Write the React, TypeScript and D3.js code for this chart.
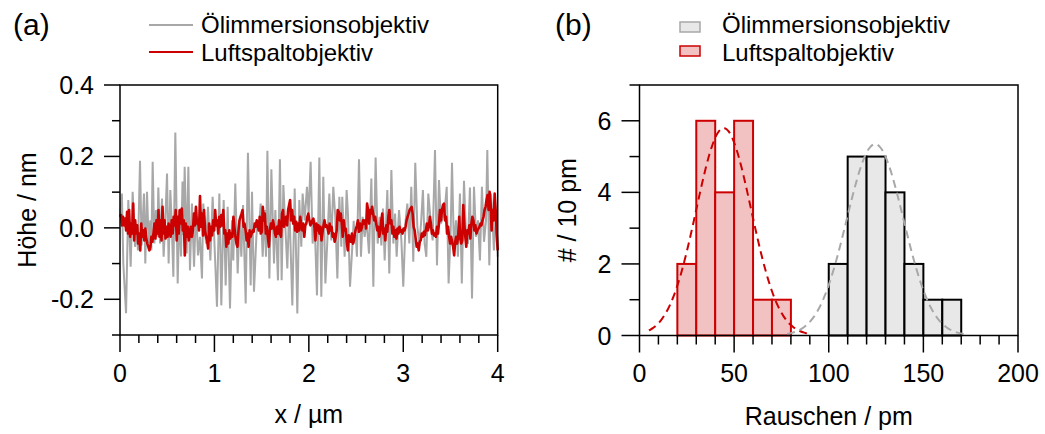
import React from "react";
import * as d3 from "d3";

// ---------- Data ----------
// Panel (a): height profiles. Gray: [x in µm, height in nm] vertices.
const grayProfile: [number, number][] = [
  [0.000,0.031],[0.020,0.096],[0.035,-0.100],[0.064,-0.239],[0.088,0.078],[0.113,-0.109],[0.134,0.101],[0.159,-0.053],[0.180,-0.007],[0.190,-0.063],
  [0.212,0.188],[0.229,-0.049],[0.254,0.096],[0.268,-0.100],[0.286,0.101],[0.304,-0.044],[0.321,0.021],[0.332,-0.063],[0.346,0.185],[0.364,-0.044],
  [0.381,0.050],[0.395,-0.025],[0.406,0.113],[0.424,-0.044],[0.445,0.082],[0.462,-0.081],[0.480,0.021],[0.498,0.152],[0.515,-0.100],[0.533,0.106],
  [0.547,0.020],[0.565,-0.137],[0.586,0.267],[0.611,-0.156],[0.628,0.050],[0.646,-0.080],[0.662,0.130],[0.672,-0.020],[0.685,0.171],[0.706,-0.072],
  [0.724,0.171],[0.741,-0.119],[0.762,0.068],[0.784,-0.109],[0.805,0.059],[0.826,-0.077],[0.847,-0.025],[0.868,-0.142],[0.882,0.068],[0.911,-0.044],
  [0.932,0.059],[0.957,-0.091],[0.981,0.087],
  [1.027,-0.221],[1.052,0.096],[1.073,-0.217],[1.098,0.078],[1.119,-0.161],[1.140,0.059],[1.165,-0.226],[1.186,0.021],[1.200,-0.091],[1.221,0.124],
  [1.246,-0.128],[1.267,0.021],[1.285,-0.081],[1.303,0.064],[1.331,-0.212],[1.355,0.210],[1.384,-0.161],[1.398,0.101],[1.419,-0.179],[1.444,-0.025],
  [1.458,0.020],[1.469,-0.010],[1.490,0.068],[1.511,-0.081],[1.532,0.050],[1.546,-0.081],[1.561,0.216],[1.582,-0.142],[1.603,0.164],[1.631,-0.100],
  [1.645,0.050],[1.673,-0.147],[1.694,0.192],[1.712,-0.147],[1.730,0.120],[1.751,0.003],[1.772,-0.114],[1.793,0.068],[1.825,-0.217],[1.850,0.110],
  [1.878,-0.240],[1.899,0.078],[1.920,-0.053],[1.934,0.096],[1.956,0.021],[1.980,0.115],[1.998,0.040],[2.019,0.185],
  [2.040,-0.044],[2.061,0.021],[2.086,-0.189],[2.111,0.197],[2.132,-0.193],[2.153,0.143],[2.175,-0.156],[2.196,-0.035],[2.217,0.096],[2.238,-0.035],
  [2.259,0.115],[2.280,0.031],[2.302,-0.142],[2.323,0.087],[2.344,-0.053],[2.354,0.087],[2.379,-0.081],[2.400,0.106],[2.414,0.040],[2.436,-0.165],
  [2.464,-0.035],[2.475,0.020],[2.485,-0.044],[2.497,-0.020],[2.509,-0.081],[2.531,0.192],[2.552,-0.081],[2.570,0.031],[2.591,-0.025],[2.612,0.021],
  [2.637,-0.072],[2.662,0.138],[2.683,-0.165],[2.707,0.197],[2.729,-0.044],[2.750,0.031],[2.768,-0.049],[2.785,0.054],[2.803,-0.091],[2.831,0.106],
  [2.852,-0.128],[2.874,0.162],[2.895,-0.044],[2.913,0.040],[2.930,-0.081],[2.955,0.050],[2.980,-0.035],[3.000,-0.165],[3.025,0.021],
  [3.043,0.068],[3.064,-0.044],[3.085,0.115],[3.106,-0.095],[3.127,0.182],[3.149,0.003],[3.170,-0.044],[3.188,0.012],[3.208,0.106],[3.226,-0.044],
  [3.244,-0.081],[3.265,0.096],[3.286,0.031],[3.311,-0.035],[3.336,0.218],[3.357,-0.105],[3.378,0.134],[3.400,0.012],[3.439,0.050],[3.460,0.115],
  [3.480,-0.156],[3.502,-0.007],[3.516,0.182],[3.537,-0.063],[3.558,0.021],[3.579,-0.081],[3.600,0.096],[3.620,-0.156],[3.643,0.132],[3.664,-0.016],
  [3.685,-0.045],[3.706,0.113],[3.728,-0.198],[3.749,0.115],[3.770,-0.025],[3.791,0.021],[3.812,-0.091],[3.833,0.115],[3.855,-0.039],[3.876,0.021],
  [3.890,0.218],[3.911,-0.105],[3.929,0.096],[3.946,0.021],[3.960,-0.063],[3.982,0.050],[4.000,-0.081],
];

// Red: heights in nm, sampled evenly from x = 0 to 4 µm.
const redProfile: number[] = [
  0.031,0.036,0.007,0.031,0.007,0.026,-0.007,0.045,-0.016,0.05,
  -0.025,0.012,-0.016,0.068,-0.035,0.021,-0.016,0.007,-0.044,-0.016,
  -0.063,0.012,-0.025,-0.007,-0.035,-0.002,-0.03,-0.044,-0.053,-0.063,
  -0.053,-0.025,-0.039,-0.016,0.012,-0.03,0.021,-0.016,0.05,-0.025,
  0.021,-0.035,0.059,-0.016,0.021,-0.03,0.003,-0.025,0.012,-0.007,
  -0.025,0.021,-0.016,0.031,0.007,0.05,-0.035,0.031,-0.016,0.05,
  0.012,0.054,-0.007,0.021,-0.077,0.012,-0.025,0.003,-0.035,-0.016,
  0.003,-0.025,-0.007,0.04,0.007,0.059,0.012,0.021,-0.007,0.089,
  0.003,0.04,-0.021,0.05,-0.007,-0.025,-0.035,-0.058,0.012,-0.035,
  0.003,
  -0.021,0.021,-0.007,0.05,0.007,0.021,-0.016,0.031,0.003,0.036,
  0.007,0.05,-0.016,-0.007,-0.053,-0.016,-0.044,-0.007,-0.03,-0.016,
  -0.025,0.031,0.003,-0.025,-0.044,-0.053,-0.007,0.021,0.031,0.04,
  0.05,0.003,0.012,-0.007,-0.035,-0.016,-0.053,-0.007,-0.025,-0.016,
  -0.007,-0.011,0.012,0.003,0.021,0.007,-0.007,0.031,-0.016,-0.011,
  0.059,0.021,0.04,-0.016,0.003,-0.025,-0.053,-0.007,0.012,-0.002,
  0.021,0.007,-0.016,-0.025,0.003,-0.016,0.021,-0.016,-0.025,0.04,
  0.05,0.003,0.021,0.031,0.007,0.05,0.064,0.078,0.021,0.05,
  0.012,0.031,-0.007,0.017,-0.011,0.012,-0.007,0.031,0.007,-0.007,
  0.012,-0.025,0.007,0.012,0.031,0.04,
  0.021,0.007,0.012,0.021,0.026,0.003,-0.035,0.012,-0.007,0.007,
  -0.016,0.003,-0.035,-0.011,0.007,0.021,0.003,0.007,-0.002,-0.016,
  0.012,-0.007,0.003,-0.025,-0.016,-0.039,-0.025,-0.007,0.05,0.045,
  0.021,0.04,0.012,-0.025,0.021,-0.007,-0.002,-0.039,-0.063,-0.021,
  -0.03,-0.039,-0.016,-0.044,-0.035,-0.016,-0.002,0.007,0.021,-0.011,
  0.012,-0.007,0.003,0.021,0.012,0.021,-0.002,0.068,0.05,0.012,
  0.05,0.04,0.059,0.04,0.021,0.031,0.012,-0.007,0.003,-0.025,
  -0.011,0.021,0.04,-0.016,-0.002,-0.035,0.007,-0.011,0.031,0.05,
  0.012,0.021,-0.016,0.003,-0.025,-0.007,-0.03,-0.002,-0.016,0.003,
  -0.011,-0.007,-0.016,-0.002,-0.007,0.003,
  0.021,0.031,0.04,0.05,0.054,0.059,0.04,0.003,-0.007,-0.03,
  -0.053,-0.044,-0.063,-0.039,-0.035,-0.016,-0.025,-0.011,-0.021,-0.007,
  0.012,-0.007,0.003,0.031,0.012,-0.016,-0.007,-0.021,-0.016,-0.025,
  0.003,-0.016,0.012,0.05,0.021,0.05,0.064,0.068,0.021,0.031,
  -0.016,0.003,-0.025,-0.044,-0.025,-0.039,-0.053,-0.077,-0.039,-0.025,
  -0.044,-0.021,0.031,-0.03,-0.044,-0.035,0.064,0.012,-0.025,-0.053,
  -0.007,-0.016,0.007,-0.03,0.012,0.031,0.021,-0.007,0.007,-0.016,
  -0.007,-0.002,0.003,0.012,0.007,0.021,0.031,0.05,0.059,0.078,
  0.092,0.05,0.101,0.068,-0.007,0.05,0.021,0.096,0.05,-0.016,
  -0.063,
];
const redXRange: [number, number] = [0, 4];

// Panel (b): histograms (bin start in pm, counts per 10 pm)
const binWidth = 10;
const redBins = [20, 30, 40, 50, 60, 70];
const redCounts = [2, 6, 4, 6, 1, 1];
const grayBins = [100, 110, 120, 130, 140, 150, 160];
const grayCounts = [2, 5, 5, 4, 2, 1, 1];
// Gaussian fits (amplitude, centre, width, drawn range)
const redFit = { amp: 5.8, mu: 44.5, sigma: 14.5, from: 5, to: 90 };
const grayFit = { amp: 5.35, mu: 124.5, sigma: 15, from: 78, to: 172 };

const legendLabels = ["Ölimmersionsobjektiv", "Luftspaltobjektiv"];
const aXTicks = [0, 1, 2, 3, 4];
const aYTicks = [-0.2, 0.0, 0.2, 0.4];
const bXTicks = [0, 50, 100, 150, 200];
const bYTicks = [0, 2, 4, 6];

// ---------- Styles ----------
const FONT = "'Liberation Sans', Arial, Helvetica, sans-serif";
const FS = 24;
const FS_TICK = 25;
const RED = "#cc0000";
const GRAY = "#a8a8a8";
const RED_FILL = "#f2c2c2";
const GRAY_FILL = "#e8e8e8";
const MAJ = 17;
const MIN = 9;

export default function App() {
  const W = 1045, H = 434;

  // Panel A scales
  const xA = d3.scaleLinear().domain([0, 4]).range([120, 497.7]);
  const yA = d3.scaleLinear().domain([-0.3, 0.4]).range([335, 85]);
  // Panel B scales
  const xB = d3.scaleLinear().domain([0, 200]).range([639.5, 1018]);
  const yB = d3.scaleLinear().domain([0, 7]).range([335.5, 85]);

  const grayLine = d3.line<[number, number]>().x(d => xA(d[0])).y(d => yA(d[1]));
  const redIdx = d3.scaleLinear().domain([0, redProfile.length - 1]).range(redXRange);
  const redLine = d3.line<number>().x((_, i) => xA(redIdx(i))).y(d => yA(d));

  const gauss = (f: typeof redFit) =>
    d3.range(f.from, f.to + 0.001, 1).map(x => [x, f.amp * Math.exp(-0.5 * ((x - f.mu) / f.sigma) ** 2)] as [number, number]);
  const fitLine = d3.line<[number, number]>().x(d => xB(d[0])).y(d => yB(d[1])).curve(d3.curveBasis);

  const aMinorX = d3.range(0, 21).map(i => i * 0.2);
  const aMinorY = d3.range(-3, 5).map(i => i / 10);
  const bMinorX = d3.range(0, 21).map(i => i * 10);
  const bMinorY = d3.range(0, 8);

  const isMajA = (v: number) => aYTicks.some(t => Math.abs(t - v) < 1e-6);
  const isMajAx = (v: number) => aXTicks.some(t => Math.abs(t - v) < 1e-6);

  const txt = { fontFamily: FONT, fontSize: FS, fill: "#000" } as const;
  const tk = { fontFamily: FONT, fontSize: FS_TICK, fill: "#000" } as const;

  return (
    <svg width={W} height={H} style={{ position: "absolute", left: 0, top: 0, background: "#fff" }}>
      {/* ---------------- Panel A ---------------- */}
      <text x={13} y={35} {...txt} fontSize={30}>(a)</text>
      <line x1={149} x2={193} y1={25} y2={25} stroke={GRAY} strokeWidth={2} />
      <text x={201} y={33} {...txt}>{legendLabels[0]}</text>
      <line x1={149} x2={193} y1={52} y2={52} stroke={RED} strokeWidth={2} />
      <text x={201} y={61} {...txt}>{legendLabels[1]}</text>

      <path d={grayLine(grayProfile) || ""} fill="none" stroke={GRAY} strokeWidth={2} />
      <path d={redLine(redProfile) || ""} fill="none" stroke={RED} strokeWidth={2.6} strokeLinejoin="round" />

      {/* frame */}
      <rect x={xA(0)} y={yA(0.4)} width={xA(4) - xA(0)} height={yA(-0.3) - yA(0.4)} fill="none" stroke="#000" strokeWidth={1.5} />
      {/* y ticks */}
      {aMinorY.map(v => (
        <line key={"ay" + v} x1={xA(0) - (isMajA(v) ? MAJ - 1 : MIN - 1)} x2={xA(0)} y1={yA(v)} y2={yA(v)} stroke="#000" strokeWidth={1.5} />
      ))}
      {aYTicks.map(v => (
        <text key={"ayl" + v} x={xA(0) - 26} y={yA(v)} dy="0.36em" textAnchor="end" {...tk}>{v.toFixed(1)}</text>
      ))}
      {/* x ticks */}
      {aMinorX.map(v => (
        <line key={"ax" + v} x1={xA(v)} x2={xA(v)} y1={yA(-0.3)} y2={yA(-0.3) + (isMajAx(v) ? MAJ : MIN - 1)} stroke="#000" strokeWidth={1.5} />
      ))}
      {aXTicks.map(v => (
        <text key={"axl" + v} x={xA(v)} y={382} textAnchor="middle" {...tk}>{v}</text>
      ))}
      <text x={(xA(0) + xA(4)) / 2} y={423} textAnchor="middle" {...tk}>x / µm</text>
      <text transform={`translate(36, ${(yA(-0.3) + yA(0.4)) / 2}) rotate(-90)`} textAnchor="middle" {...tk}>Höhe / nm</text>

      {/* ---------------- Panel B ---------------- */}
      <text x={555} y={35} {...txt} fontSize={30}>(b)</text>
      <rect x={680} y={22} width={20} height={10} fill={GRAY_FILL} stroke={GRAY} strokeWidth={1.5} />
      <text x={722} y={33} {...txt}>{legendLabels[0]}</text>
      <rect x={680} y={46} width={20} height={10} fill={RED_FILL} stroke={RED} strokeWidth={1.5} />
      <text x={722} y={61} {...txt}>{legendLabels[1]}</text>

      {redBins.map((b, i) => (
        <rect key={"rb" + b} x={xB(b)} y={yB(redCounts[i])} width={xB(b + binWidth) - xB(b)} height={yB(0) - yB(redCounts[i])}
          fill={RED_FILL} stroke={RED} strokeWidth={2} />
      ))}
      {grayBins.map((b, i) => (
        <rect key={"gb" + b} x={xB(b)} y={yB(grayCounts[i])} width={xB(b + binWidth) - xB(b)} height={yB(0) - yB(grayCounts[i])}
          fill={GRAY_FILL} stroke="#000" strokeWidth={2} />
      ))}
      <path d={fitLine(gauss(redFit)) || ""} fill="none" stroke={RED} strokeWidth={2} strokeDasharray="8,5" />
      <path d={fitLine(gauss(grayFit)) || ""} fill="none" stroke={GRAY} strokeWidth={2} strokeDasharray="8,5" />

      <rect x={xB(0)} y={yB(7)} width={xB(200) - xB(0)} height={yB(0) - yB(7)} fill="none" stroke="#000" strokeWidth={1.5} />
      {bMinorY.map(v => (
        <line key={"by" + v} x1={xB(0) - (v % 2 === 0 ? MAJ + 1 : MIN + 1)} x2={xB(0)} y1={yB(v)} y2={yB(v)} stroke="#000" strokeWidth={1.5} />
      ))}
      {bYTicks.map(v => (
        <text key={"byl" + v} x={xB(0) - 28} y={yB(v)} dy="0.36em" textAnchor="end" {...tk}>{v}</text>
      ))}
      {bMinorX.map(v => (
        <line key={"bx" + v} x1={xB(v)} x2={xB(v)} y1={yB(0)} y2={yB(0) + (v % 50 === 0 ? MAJ : MIN)} stroke="#000" strokeWidth={1.5} />
      ))}
      {bXTicks.map(v => (
        <text key={"bxl" + v} x={xB(v)} y={382} textAnchor="middle" {...tk}>{v}</text>
      ))}
      <text x={(xB(0) + xB(200)) / 2} y={425} textAnchor="middle" {...tk}>Rauschen / pm</text>
      <text transform={`translate(576, ${(yB(0) + yB(7)) / 2}) rotate(-90)`} textAnchor="middle" {...tk}>{"# / 10 pm"}</text>
    </svg>
  );
}
